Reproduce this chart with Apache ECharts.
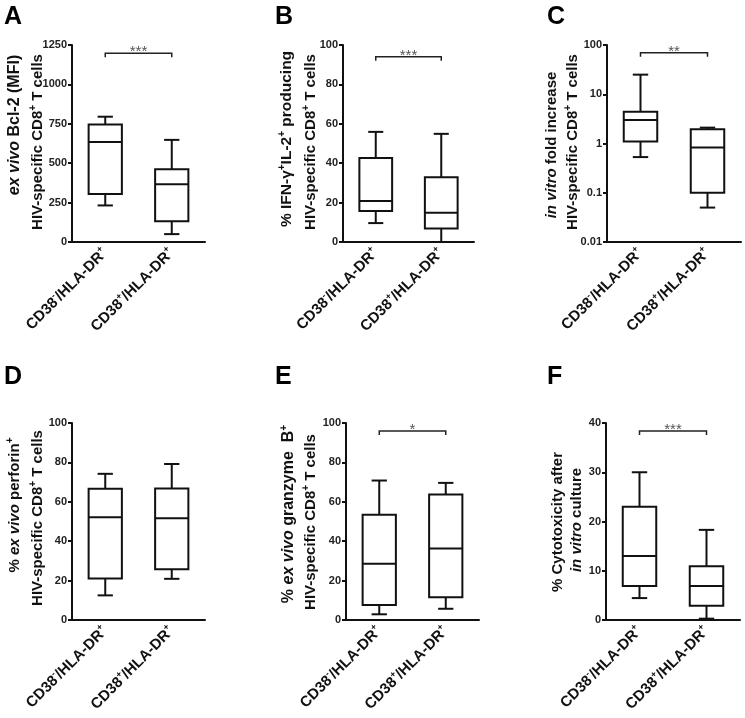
<!DOCTYPE html>
<html>
<head>
<meta charset="utf-8">
<script src="https://cdn.jsdelivr.net/npm/echarts@6/dist/echarts.min.js"></script>
<style>
html, body { margin: 0; padding: 0; background: #fff; }
#main { width: 745px; height: 718px; }
</style>
</head>
<body>
<div id="main"></div>
<script>
// groups on every x axis
var groups = ['CD38-/HLA-DR+', 'CD38+/HLA-DR+'];

// box values per group: [low whisker, Q1, median, Q3, high whisker]
var bcl2Mfi = [[232, 304, 635, 745, 795], [50, 131, 366, 461, 648]];
var ifnIl2 = [[9.6, 15.7, 20.8, 42.7, 55.9], [0, 6.8, 14.9, 32.9, 54.9]];
var foldIncrease = [[0.53, 1.1, 3.0, 4.4, 25], [0.05, 0.1, 0.83, 1.95, 2.1]];
var perforin = [[12.5, 21.1, 52.2, 66.6, 74.2], [20.9, 25.8, 51.7, 66.7, 79.2]];
var granzymeB = [[2.9, 7.6, 28.5, 53.4, 70.8], [5.7, 11.5, 36.3, 63.7, 69.6]];
var cytotoxicity = [[4.45, 6.9, 13, 23, 30], [0.27, 2.9, 6.9, 10.9, 18.3]];

// y axis ranges (panel C is log)
var yMin = [0, 0, 0.01, 0, 0, 0];
var yMax = [1250, 100, 100, 100, 100, 40];
var yStep = [250, 20, null, 20, 20, 10];

// significance brackets between the two groups
var sigY = [1197, 94, 70, null, 96, 38.4];
var sigText = ['***', '***', '**', '', '*', '***'];

var panelData = [bcl2Mfi, ifnIl2, foldIncrease, perforin, granzymeB, cytotoxicity];
var letters = ['A', 'B', 'C', 'D', 'E', 'F'];

// y axis titles, two lines each
var line2 = 'HIV-specific CD8{s|+} T cells';
var titles = [
    ['{i|ex vivo} Bcl-2 (MFI)', line2],
    ['% IFN-γ{s|+}IL-2{s|+} producing', line2],
    ['{i|in vitro} fold increase', line2],
    ['% {i|ex vivo} perforin{s|+}', line2],
    ['% {i|ex vivo} granzyme  B{s|+}', line2],
    ['% Cytotoxicity after', '{i|in vitro} culture']
];
var titleSize = [[16, 15], [15.5, 15], [15, 15], [15, 15], [16, 15], [15, 15]];

var grids = [
    {left: 72, top: 45, width: 133, height: 197},
    {left: 343, top: 45, width: 131, height: 197},
    {left: 607, top: 45, width: 134, height: 197},
    {left: 72, top: 423, width: 133, height: 197},
    {left: 346, top: 423, width: 133, height: 197},
    {left: 606, top: 423, width: 134, height: 197}
];
var letterPos = [[4, 5], [275, 5], [547, 5], [4, 365], [275, 365], [547, 365]];
var titlePos = [
    [[15, 125], [38, 142]],
    [[287, 139], [311, 142]],
    [[552, 145], [573, 142]],
    [[15, 505], [38, 518]],
    [[289, 514], [311, 522]],
    [[558, 522], [577, 520]]
];

var font = 'Liberation Sans, Arial, sans-serif';
var ink = '#111';

function renderBox(params, api) {
    var x = api.value(0);
    var low = api.coord([x, api.value(1)]);
    var q1 = api.coord([x, api.value(2)]);
    var med = api.coord([x, api.value(3)]);
    var q3 = api.coord([x, api.value(4)]);
    var high = api.coord([x, api.value(5)]);
    var band = api.coord([1, api.value(3)])[0] - api.coord([0, api.value(3)])[0];
    var hw = band * 0.25, cw = band * 0.115;
    var cx = med[0];
    var st = {stroke: ink, lineWidth: 2, fill: null};
    return {
        type: 'group',
        children: [
            {type: 'line', shape: {x1: cx, y1: high[1], x2: cx, y2: q3[1]}, style: st},
            {type: 'line', shape: {x1: cx, y1: q1[1], x2: cx, y2: low[1]}, style: st},
            {type: 'line', shape: {x1: cx - cw, y1: high[1], x2: cx + cw, y2: high[1]}, style: st},
            {type: 'line', shape: {x1: cx - cw, y1: low[1], x2: cx + cw, y2: low[1]}, style: st},
            {type: 'rect', shape: {x: cx - hw, y: q3[1], width: hw * 2, height: q1[1] - q3[1]},
                style: {stroke: ink, lineWidth: 2, fill: 'none'}},
            {type: 'line', shape: {x1: cx - hw, y1: med[1], x2: cx + hw, y2: med[1]}, style: st}
        ]
    };
}

function makeBracket(label) {
    return function (params, api) {
        var y = api.value(0);
        var p1 = api.coord([0, y]);
        var p2 = api.coord([1, y]);
        return {
            type: 'group',
            children: [
                {type: 'polyline', shape: {points: [[p1[0], p1[1] + 4], p1, p2, [p2[0], p2[1] + 4]]},
                    style: {stroke: '#222', lineWidth: 1.5, fill: null}},
                {type: 'text', x: (p1[0] + p2[0]) / 2, y: p1[1] - 1,
                    style: {text: label, fill: '#555', font: '15px ' + font, align: 'center', verticalAlign: 'middle'}}
            ]
        };
    };
}

function groupLabel(v) {
    return v.replace(/^CD38([+-])\/HLA-DR([+-])$/, '{t|CD38}{s|$1}{t|/HLA-DR}{s|$2}');
}

var xAxes = [], yAxes = [], series = [], graphics = [];

for (var i = 0; i < 6; i++) {
    xAxes.push({
        gridIndex: i,
        type: 'category',
        data: groups,
        axisLine: {lineStyle: {color: ink, width: 2}},
        axisTick: {show: false},
        splitLine: {show: false},
        axisLabel: {
            interval: 0, rotate: 45, margin: 9,
            formatter: groupLabel,
            rich: {
                t: {fontSize: 15, fontWeight: 'bold', color: ink, fontFamily: font, lineHeight: 19},
                s: {fontSize: 9, fontWeight: 'bold', color: ink, fontFamily: font, lineHeight: 19, verticalAlign: 'top'}
            }
        }
    });
    var ya = {
        gridIndex: i,
        type: i === 2 ? 'log' : 'value',
        min: yMin[i],
        max: yMax[i],
        axisLine: {show: true, lineStyle: {color: ink, width: 2}},
        axisTick: {show: true, length: 4, lineStyle: {color: ink, width: 2}},
        splitLine: {show: false},
        axisLabel: {
            fontSize: 11, fontWeight: 'bold', color: '#222', fontFamily: font, margin: 5,
            formatter: function (v) { return String(v); }
        }
    };
    if (yStep[i]) ya.interval = yStep[i];
    if (i === 2) { ya.logBase = 10; ya.splitNumber = 4; }
    yAxes.push(ya);

    series.push({
        type: 'custom',
        xAxisIndex: i,
        yAxisIndex: i,
        renderItem: renderBox,
        encode: {x: 0, y: [1, 2, 3, 4, 5]},
        data: panelData[i].map(function (d, k) { return [k].concat(d); }),
        silent: true
    });
    if (sigY[i] != null) {
        series.push({
            type: 'custom',
            xAxisIndex: i,
            yAxisIndex: i,
            renderItem: makeBracket(sigText[i]),
            encode: {y: 0},
            data: [[sigY[i]]],
            silent: true
        });
    }

    graphics.push({
        type: 'text', x: letterPos[i][0], y: letterPos[i][1],
        style: {text: letters[i], font: 'bold 25px ' + font, fill: '#000'}
    });
    for (var j = 0; j < 2; j++) {
        var fs = titleSize[i][j];
        graphics.push({
            type: 'text',
            x: titlePos[i][j][0], y: titlePos[i][j][1],
            rotation: Math.PI / 2,
            style: {
                text: titles[i][j],
                font: 'bold ' + fs + 'px ' + font,
                fill: ink,
                align: 'center',
                verticalAlign: 'middle',
                rich: {
                    i: {fontSize: fs, fontWeight: 'bold', fontStyle: 'italic', fontFamily: font, fill: ink, lineHeight: 20},
                    s: {fontSize: 10, fontWeight: 'bold', fontFamily: font, fill: ink, lineHeight: 20, verticalAlign: 'top'}
                }
            }
        });
    }
}

var myChart = echarts.init(document.getElementById('main'));
myChart.setOption({
    animation: false,
    backgroundColor: '#fff',
    textStyle: {fontFamily: font},
    grid: grids,
    xAxis: xAxes,
    yAxis: yAxes,
    series: series,
    graphic: graphics
});
</script>
</body>
</html>
